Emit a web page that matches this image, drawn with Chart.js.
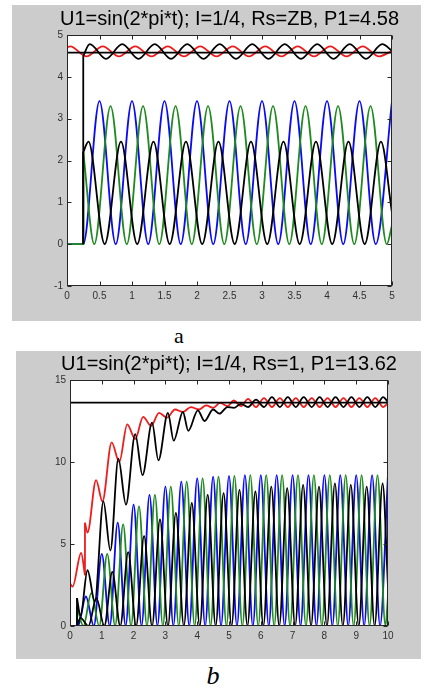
<!DOCTYPE html>
<html>
<head>
<meta charset="utf-8">
<script src="https://cdn.jsdelivr.net/npm/chart.js@4.4.1/dist/chart.umd.min.js"></script>
<style>
  html, body { margin: 0; padding: 0; background: #ffffff; }
  body { width: 421px; height: 691px; position: relative; overflow: hidden; }
  .panel { position: absolute; background: #cccccc; }
  #wrapA { left: 12px; top: 5px; width: 409px; height: 316px; }
  #wrapB { left: 16px; top: 351px; width: 405px; height: 308px; }
  .panel canvas { display: block; }
  .cap { position: absolute; width: 40px; text-align: center; color: #000;
         font-family: "Liberation Serif", "Times New Roman", serif; }
  #capA { left: 159px; top: 325px; font-size: 22px; line-height: 22px; }
  #capB { left: 193px; top: 663px; font-size: 26px; line-height: 26px; font-style: italic; }
</style>
</head>
<body>
<div class="panel" id="wrapA"><canvas id="chartA" width="409" height="316"></canvas></div>
<div class="cap" id="capA">a</div>
<div class="panel" id="wrapB"><canvas id="chartB" width="405" height="308"></canvas></div>
<div class="cap" id="capB">b</div>

<script>
// ---------- Panel a: matched load (Rs = ZB), t = 0 .. 5 ----------
const titleA = 'U1=sin(2*pi*t); I=1/4, Rs=ZB, P1=4.58';
const xTicksA = [0, 0.5, 1, 1.5, 2, 2.5, 3, 3.5, 4, 4.5, 5];
const xLabelsA = ['0', '0.5', '1', '1.5', '2', '2.5', '3', '3.5', '4', '4.5', '5'];
const yTicksA = [-1, 0, 1, 2, 3, 4, 5];
const yLabelsA = ['-1', '0', '1', '2', '3', '4', '5'];

// [t, value] at the turning points of each trace
const levelA = [[0, 4.58], [5, 4.58]];
const redA = [[0, 4.70], [0.05, 4.73], [0.3, 4.49], [0.55, 4.73], [0.8, 4.49], [1.05, 4.73], [1.3, 4.49],
  [1.55, 4.73], [1.8, 4.49], [2.05, 4.73], [2.3, 4.49], [2.55, 4.73], [2.8, 4.49], [3.05, 4.73], [3.3, 4.49],
  [3.55, 4.73], [3.8, 4.49], [4.05, 4.73], [4.3, 4.49], [4.55, 4.73], [4.8, 4.49], [5, 4.62]];
const blackUpperJumpA = [[0.25, 0], [0.25, 4.5]];
const blackUpperA = [[0.25, 4.5], [0.35, 4.78], [0.6, 4.43], [0.85, 4.78], [1.1, 4.43], [1.35, 4.78], [1.6, 4.43],
  [1.85, 4.78], [2.1, 4.43], [2.35, 4.78], [2.6, 4.43], [2.85, 4.78], [3.1, 4.43], [3.35, 4.78], [3.6, 4.43],
  [3.85, 4.78], [4.1, 4.43], [4.35, 4.78], [4.6, 4.43], [4.85, 4.78], [5, 4.62]];
const blueA = [[0, 0], [0.25, 0], [0.5, 3.42], [0.75, 0], [1, 3.42], [1.25, 0], [1.5, 3.42], [1.75, 0], [2, 3.42],
  [2.25, 0], [2.5, 3.42], [2.75, 0], [3, 3.42], [3.25, 0], [3.5, 3.42], [3.75, 0], [4, 3.42], [4.25, 0],
  [4.5, 3.42], [4.75, 0], [5, 3.42]];
const greenJumpA = [[0, 0], [0.25, 0], [0.25, 2.2]];
const greenA = [[0.25, 2.2], [0.42, 0], [0.67, 3.3], [0.92, 0], [1.17, 3.3], [1.42, 0], [1.67, 3.3], [1.92, 0],
  [2.17, 3.3], [2.42, 0], [2.67, 3.3], [2.92, 0], [3.17, 3.3], [3.42, 0], [3.67, 3.3], [3.92, 0], [4.17, 3.3],
  [4.42, 0], [4.67, 3.3], [4.92, 0], [5, 0.45]];
const blackLowerJumpA = [[0.25, 0], [0.25, 2.2]];
const blackLowerA = [[0.25, 2.2], [0.33, 2.45], [0.58, 0], [0.83, 2.45], [1.08, 0], [1.33, 2.45], [1.58, 0],
  [1.83, 2.45], [2.08, 0], [2.33, 2.45], [2.58, 0], [2.83, 2.45], [3.08, 0], [3.33, 2.45], [3.58, 0],
  [3.83, 2.45], [4.08, 0], [4.33, 2.45], [4.58, 0], [4.83, 2.45], [5, 0.75]];

// ---------- Panel b: Rs = 1, t = 0 .. 10 ----------
const titleB = 'U1=sin(2*pi*t); I=1/4, Rs=1, P1=13.62';
const xTicksB = [0, 1, 2, 3, 4, 5, 6, 7, 8, 9, 10];
const xLabelsB = ['0', '1', '2', '3', '4', '5', '6', '7', '8', '9', '10'];
const yTicksB = [0, 5, 10, 15];
const yLabelsB = ['0', '5', '10', '15'];

const levelB = [[0, 13.62], [10, 13.62]];
const redStartB = [[0, 2.6], [0.08, 2.4], [0.35, 4.45], [0.47, 3.1]];
const redJumpB = [[0.47, 3.1], [0.47, 6.3]];
const redB = [[0.47, 6.3], [0.55, 5.7], [0.82, 8.9], [1.02, 7.6], [1.31, 11.2], [1.55, 10.0], [1.8, 12.3],
  [2.05, 11.4], [2.3, 12.75], [2.55, 12.2], [2.8, 13.0], [3.05, 12.7], [3.3, 13.2], [3.55, 13.05], [3.8, 13.35],
  [4.05, 13.2], [4.28, 13.45], [4.5, 13.3], [4.72, 13.6], [4.95, 13.4], [5.15, 13.75], [5.38, 13.4], [5.6, 13.85],
  [5.85, 13.35], [6.1, 13.9], [6.35, 13.35], [6.6, 13.9], [6.85, 13.35], [7.1, 13.9], [7.35, 13.35], [7.6, 13.9],
  [7.85, 13.35], [8.1, 13.9], [8.35, 13.35], [8.6, 13.9], [8.85, 13.35], [9.1, 13.9], [9.35, 13.35], [9.6, 13.9],
  [9.85, 13.35], [10, 13.6]];
const blackUpperJumpB = [[0.22, 0], [0.22, 1.7]];
const blackUpperB = [[0.22, 1.7], [0.33, 0.6], [0.55, 3.4], [0.78, 1.5], [1.05, 7.6], [1.27, 4.6], [1.52, 10.2],
  [1.76, 7.4], [2.05, 11.7], [2.28, 9.2], [2.58, 12.4], [2.78, 10.1], [3.08, 13.0], [3.26, 11.3], [3.55, 13.05],
  [3.72, 11.9], [4.02, 13.15], [4.23, 12.5], [4.5, 13.2], [4.7, 12.95], [4.95, 13.35], [5.15, 13.3], [5.38, 13.55],
  [5.6, 13.35], [5.85, 13.8], [6.1, 13.35], [6.35, 13.95], [6.6, 13.35], [6.85, 13.95], [7.1, 13.35], [7.35, 13.95],
  [7.6, 13.35], [7.85, 13.95], [8.1, 13.35], [8.35, 13.95], [8.6, 13.35], [8.85, 13.95], [9.1, 13.35], [9.35, 13.95],
  [9.6, 13.35], [9.85, 13.95], [10, 13.65]];
const blueB = [[0, 0], [0.25, 0], [0.5, 1.8], [0.75, 0], [1, 4.4], [1.25, 0], [1.5, 6.3], [1.75, 0], [2, 7.4],
  [2.25, 0], [2.5, 8.0], [2.75, 0], [3, 8.5], [3.25, 0], [3.5, 8.8], [3.75, 0], [4, 9.0], [4.25, 0], [4.5, 9.1],
  [4.75, 0], [5, 9.15], [5.25, 0], [5.5, 9.2], [5.75, 0], [6, 9.2], [6.25, 0], [6.5, 9.2], [6.75, 0], [7, 9.2],
  [7.25, 0], [7.5, 9.2], [7.75, 0], [8, 9.2], [8.25, 0], [8.5, 9.2], [8.75, 0], [9, 9.2], [9.25, 0], [9.5, 9.2],
  [9.75, 0], [10, 9.25]];
const greenJumpB = [[0, 0], [0.22, 0], [0.22, 1.2]];
const greenB = [[0.22, 1.2], [0.42, 0], [0.67, 2.0], [0.92, 0], [1.17, 4.4], [1.42, 0], [1.67, 6.2], [1.92, 0],
  [2.17, 7.3], [2.42, 0], [2.67, 8.0], [2.92, 0], [3.17, 8.5], [3.42, 0], [3.67, 8.8], [3.92, 0], [4.17, 9.0],
  [4.42, 0], [4.67, 9.1], [4.92, 0], [5.17, 9.15], [5.42, 0], [5.67, 9.2], [5.92, 0], [6.17, 9.2], [6.42, 0],
  [6.67, 9.2], [6.92, 0], [7.17, 9.2], [7.42, 0], [7.67, 9.2], [7.92, 0], [8.17, 9.2], [8.42, 0], [8.67, 9.2],
  [8.92, 0], [9.17, 9.2], [9.42, 0], [9.67, 9.2], [9.92, 0], [10, 1.8]];
const blackLowerB = [[0.22, 0], [0.33, 0.5], [0.58, 0], [0.83, 1.7], [1.08, 0], [1.33, 3.3], [1.58, 0], [1.83, 4.5],
  [2.08, 0], [2.33, 5.5], [2.58, 0], [2.83, 6.5], [3.08, 0], [3.33, 6.9], [3.58, 0], [3.83, 7.5], [4.08, 0],
  [4.33, 8.0], [4.58, 0], [4.83, 8.1], [5.08, 0], [5.33, 8.3], [5.58, 0], [5.83, 8.2], [6.08, 0], [6.33, 8.5],
  [6.58, 0], [6.83, 8.4], [7.08, 0], [7.33, 8.6], [7.58, 0], [7.83, 8.5], [8.08, 0], [8.33, 8.7], [8.58, 0],
  [8.83, 8.6], [9.08, 0], [9.33, 8.5], [9.58, 0], [9.83, 8.7], [10, 2.4]];

// ---------- drawing ----------
const RED = '#ee1c1c', BLUE = '#0a0af5', GREEN = '#1f8a1f', BLACK = '#000000';
const AXIS_COLOR = '#262626', LABEL_COLOR = '#303030';
const FONT = '"Liberation Sans", Arial, Helvetica, sans-serif';

function trace(pairs, color, smooth) {
  return {
    data: pairs.map(p => ({ x: p[0], y: p[1] })),
    borderColor: color,
    borderWidth: 1.8,
    pointRadius: 0,
    fill: false,
    tension: 0,
    cubicInterpolationMode: smooth ? 'monotone' : 'default'
  };
}

// White plot box, closed frame with inward ticks on every side, and the title line
const matlabAxes = {
  id: 'matlabAxes',
  beforeDraw(chart) {
    const a = chart.chartArea, ctx = chart.ctx;
    ctx.save();
    ctx.fillStyle = '#ffffff';
    ctx.fillRect(a.left, a.top, a.right - a.left, a.bottom - a.top);
    ctx.restore();
  },
  afterDraw(chart, args, opts) {
    const a = chart.chartArea, ctx = chart.ctx;
    const L = Math.round(a.left) + 0.5, R = Math.round(a.right) - 0.5;
    const T = Math.round(a.top) + 0.5, B = Math.round(a.bottom) - 0.5;
    const len = 4;
    ctx.save();
    ctx.strokeStyle = AXIS_COLOR;
    ctx.lineWidth = 1;
    ctx.beginPath();
    chart.scales.x.ticks.forEach(t => {
      const px = Math.round(chart.scales.x.getPixelForValue(t.value)) + 0.5;
      ctx.moveTo(px, B); ctx.lineTo(px, B - len);
      ctx.moveTo(px, T); ctx.lineTo(px, T + len);
    });
    chart.scales.y.ticks.forEach(t => {
      const py = Math.round(chart.scales.y.getPixelForValue(t.value)) + 0.5;
      ctx.moveTo(L, py); ctx.lineTo(L + len, py);
      ctx.moveTo(R, py); ctx.lineTo(R - len, py);
    });
    ctx.stroke();
    ctx.strokeRect(L, T, R - L, B - T);
    ctx.fillStyle = '#000000';
    ctx.font = '20px ' + FONT;
    ctx.textAlign = 'center';
    ctx.textBaseline = 'alphabetic';
    ctx.fillText(opts.text, (a.left + a.right) / 2, opts.baseline);
    ctx.restore();
  }
};

function makeChart(id, cfg) {
  const tickFont = { family: FONT, size: 10 };
  return new Chart(document.getElementById(id), {
    type: 'line',
    data: { datasets: cfg.datasets },
    options: {
      responsive: false,
      animation: false,
      devicePixelRatio: 1,
      events: [],
      layout: { padding: { left: 0, right: cfg.padRight, top: cfg.padTop, bottom: 0 } },
      plugins: {
        legend: { display: false },
        tooltip: { enabled: false },
        matlabAxes: { text: cfg.title, baseline: cfg.titleBaseline }
      },
      scales: {
        x: {
          type: 'linear', min: cfg.xMin, max: cfg.xMax,
          grid: { display: false, drawTicks: false },
          border: { display: false },
          afterBuildTicks: s => { s.ticks = cfg.xTicks.map(v => ({ value: v })); },
          afterFit: s => { s.height = cfg.xAxisHeight; },
          ticks: { callback: (v, i) => cfg.xLabels[i], padding: 4, maxRotation: 0, autoSkip: false,
                   font: tickFont, color: LABEL_COLOR }
        },
        y: {
          type: 'linear', min: cfg.yMin, max: cfg.yMax,
          grid: { display: false, drawTicks: false },
          border: { display: false },
          afterBuildTicks: s => { s.ticks = cfg.yTicks.map(v => ({ value: v })); },
          afterFit: s => { s.width = cfg.yAxisWidth; },
          ticks: { callback: (v, i) => cfg.yLabels[i], padding: 4, autoSkip: false,
                   font: tickFont, color: LABEL_COLOR }
        }
      }
    },
    plugins: [matlabAxes]
  });
}

makeChart('chartA', {
  title: titleA, titleBaseline: 20,
  padRight: 29, padTop: 30, xAxisHeight: 35, yAxisWidth: 55,
  xMin: 0, xMax: 5, yMin: -1, yMax: 5,
  xTicks: xTicksA, xLabels: xLabelsA, yTicks: yTicksA, yLabels: yLabelsA,
  datasets: [
    trace(levelA, BLACK, false),
    trace(blackUpperJumpA, BLACK, false),
    trace(blackUpperA, BLACK, true),
    trace(redA, RED, true),
    trace(blackLowerJumpA, BLACK, false),
    trace(blackLowerA, BLACK, true),
    trace(greenJumpA, GREEN, false),
    trace(greenA, GREEN, true),
    trace(blueA, BLUE, true)
  ]
});

makeChart('chartB', {
  title: titleB, titleBaseline: 19,
  padRight: 33, padTop: 29, xAxisHeight: 33, yAxisWidth: 54,
  xMin: 0, xMax: 10, yMin: 0, yMax: 15,
  xTicks: xTicksB, xLabels: xLabelsB, yTicks: yTicksB, yLabels: yLabelsB,
  datasets: [
    trace(levelB, BLACK, false),
    trace(blackUpperJumpB, BLACK, false),
    trace(blackUpperB, BLACK, true),
    trace(redStartB, RED, true),
    trace(redJumpB, RED, false),
    trace(redB, RED, true),
    trace(blackLowerB, BLACK, true),
    trace(greenJumpB, GREEN, false),
    trace(greenB, GREEN, true),
    trace(blueB, BLUE, true)
  ]
});
</script>
</body>
</html>
